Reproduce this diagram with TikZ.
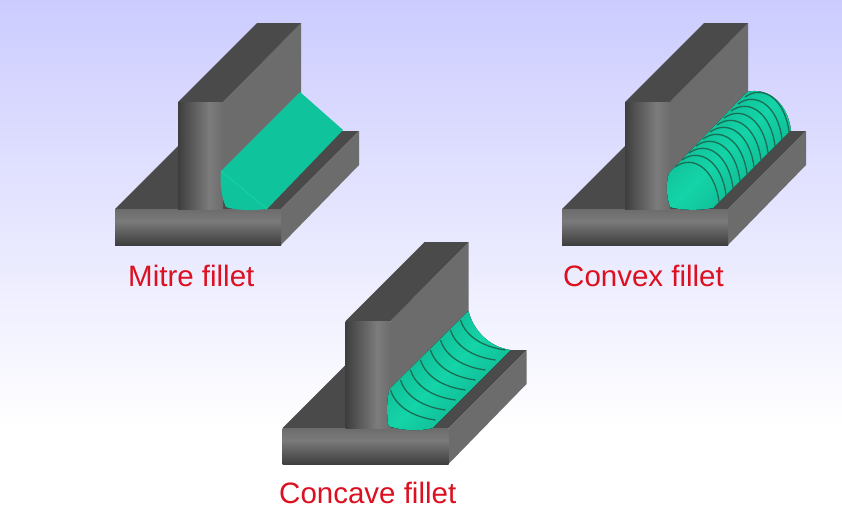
\documentclass[tikz,border=0pt]{standalone}
\usepackage{fontspec}
\setmainfont{Liberation Sans}
\definecolor{bgtop}{HTML}{CCCCFF}
\definecolor{darkface}{HTML}{4A4A4A}
\definecolor{sideface}{HTML}{6C6C6C}
\definecolor{stemdark}{HTML}{3E3E3E}
\definecolor{stemlight}{HTML}{7C7C7C}
\definecolor{basemid}{HTML}{7A7A7A}
\definecolor{weldgreen}{HTML}{0FC49C}
\definecolor{weldlight}{HTML}{14D4A8}
\definecolor{welddark}{HTML}{0DAE8C}
\definecolor{ribcolor}{HTML}{1A6E55}
\definecolor{labelred}{HTML}{DC1020}
\pgfdeclarehorizontalshading{stemshade}{100bp}{color(0bp)=(stemdark); color(25bp)=(stemdark); color(60bp)=(stemlight); color(75bp)=(sideface); color(100bp)=(sideface)}
\pgfdeclareverticalshading{baseshade}{100bp}{color(0bp)=(stemdark); color(25bp)=(stemdark); color(58bp)=(basemid); color(75bp)=(sideface); color(100bp)=(sideface)}
\tikzset{
  darktop/.style={fill=darkface},
  sidewall/.style={fill=sideface},
  stemfront/.style={shading=stemshade},
  basefront/.style={shading=baseshade},
  weldflat/.style={fill=weldgreen},
  weldround/.style={top color=welddark, bottom color=welddark, middle color=weldlight, shading angle=45},
  rib/.style={draw=ribcolor, line width=1.3pt},
  filletlabel/.style={anchor=base west, text=labelred, font=\fontsize{29.5}{32}\selectfont, inner sep=0pt},
}
\newcommand{\teeblock}{
\fill[darktop] (115,209) -- (178,146) -- (223,146) -- (223,131) -- (359,131) -- (281,209) -- cycle;
\fill[sidewall] (281,209) -- (359,131) -- (359,165) -- (281,245) -- cycle;
\shade[basefront] (115,209) rectangle (281,245);
\fill[sidewall] (223,102) -- (301,23) -- (301,100) -- (223,180) -- cycle;
\fill[darktop] (178,102) -- (257,23) -- (301,23) -- (223,102) -- cycle;
\shade[stemfront] (178,102) rectangle (223,209);
}
\begin{document}
\begin{tikzpicture}[x=1pt,y=-1pt]
\useasboundingbox (0,0) rectangle (842,520);
\shade[top color=bgtop, bottom color=white] (0,0) rectangle (842,430);
\fill[white] (0,430) rectangle (842,520);
\begin{scope}
\teeblock
\fill[weldflat] (221,171) -- (300,92) -- (343,130) -- (267,209) .. controls (250,211) and (234,210) .. (226,207) .. controls (221,197) and (220,182) .. (221,171) -- cycle;
\draw[weldlight, line width=.8pt] (221,171) -- (267,209);
\end{scope}
\begin{scope}[shift={(447,0)}]
\teeblock
\fill[weldround] (222,173) -- (300,92) .. controls (318,87) and (340,100) .. (344,130) -- (266,208) .. controls (250,211) and (232,210) .. (223,207) .. controls (219,195) and (219,182) .. (222,173) -- cycle;
\foreach \s in {6,13,...,76} {
\draw[rib] (222+\s,173-\s) .. controls (240+\s,160-\s) and (262+\s,175-\s) .. (266+\s,208-\s);
}
\end{scope}
\begin{scope}[shift={(167.5,219)}]
\teeblock
\fill[weldround] (222,170) -- (301,92) .. controls (306,112) and (322,128) .. (343,131) -- (265,209) .. controls (250,213) and (232,211) .. (221,207) .. controls (219,195) and (219,182) .. (222,170) -- cycle;
\foreach \s in {0,10,...,70} {
\draw[rib] (223+\s,171-\s) .. controls (228+\s,187-\s) and (245+\s,198-\s) .. (268+\s,201-\s);
}
\end{scope}
\node[filletlabel] (mitrelabel) at (128,286.5) {Mitre fillet};
\node[filletlabel] (convexlabel) at (563,286.5) {Convex fillet};
\node[filletlabel] (concavelabel) at (279,503.5) {Concave fillet};
\end{tikzpicture}
\end{document}
